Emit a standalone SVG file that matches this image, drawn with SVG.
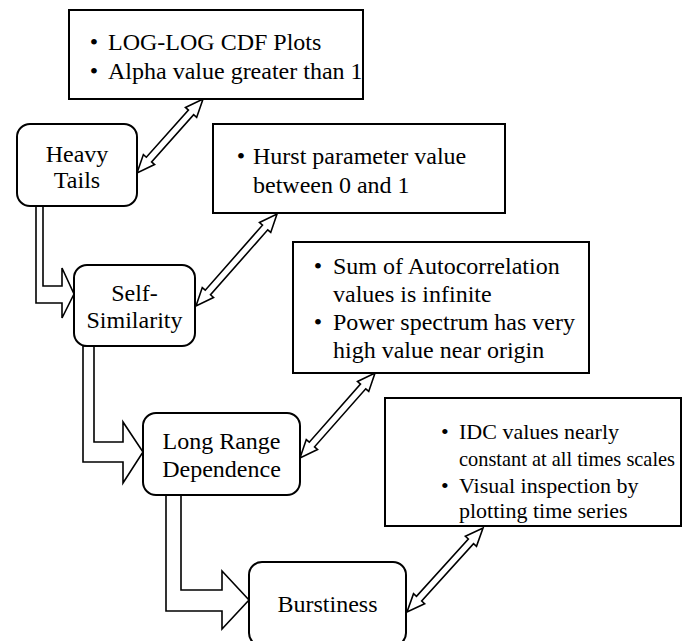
<svg xmlns="http://www.w3.org/2000/svg" width="692" height="641" viewBox="0 0 692 641">
<style>
.box{fill:#fff;stroke:#000;stroke-width:2}
.node{fill:#fff;stroke:#000;stroke-width:2}
.conn{fill:#fff;stroke:#000;stroke-width:1.6;stroke-linejoin:miter}
.t{font-family:'Liberation Serif','Tinos','Times New Roman','DejaVu Serif',serif;font-size:24px;fill:#000}
.c{text-anchor:middle}
.s{font-size:22px}
</style>
<rect width="692" height="641" fill="#fff"/>
<g id="connectors">
<path class="conn" d="M43,206 L43,286 L62,286 L62,268 L74,294 L62,318 L62,303 L36,303 L36,206 Z"/>
<path class="conn" d="M94,346 L94,442 L123,442 L123,422 L143,452 L123,483 L123,462 L83,462 L83,346 Z"/>
<path class="conn" d="M181,495 L181,590 L222,590 L222,571 L249,600 L222,629 L222,611 L166,611 L166,495 Z"/>
<path class="conn" transform="translate(137,173) rotate(-48.27)" d="M0,0 L18,-7.5 L18,-3.5 L81.2,-3.5 L81.2,-7.5 L99.2,0 L81.2,7.5 L81.2,3.5 L18,3.5 L18,7.5 Z"/>
<path class="conn" transform="translate(196,306) rotate(-48.64)" d="M0,0 L18,-7.5 L18,-3.5 L104.6,-3.5 L104.6,-7.5 L122.6,0 L104.6,7.5 L104.6,3.5 L18,3.5 L18,7.5 Z"/>
<path class="conn" transform="translate(300,458) rotate(-48.58)" d="M0,0 L18,-7.5 L18,-3.5 L95.4,-3.5 L95.4,-7.5 L113.4,0 L95.4,7.5 L95.4,3.5 L18,3.5 L18,7.5 Z"/>
<path class="conn" transform="translate(407,612) rotate(-47.86)" d="M0,0 L18,-7.5 L18,-3.5 L95.3,-3.5 L95.3,-7.5 L113.3,0 L95.3,7.5 L95.3,3.5 L18,3.5 L18,7.5 Z"/>
</g>
<g id="box-heavy-tails-info" class="t">
<rect class="box" x="69" y="10" width="294" height="89"/>
<text x="89.8" y="50">•</text><text x="108" y="50">LOG-LOG CDF Plots</text>
<text x="89.8" y="79">•</text><text x="108" y="79">Alpha value greater than 1</text>
</g>
<g id="box-self-similarity-info" class="t">
<rect class="box" x="213" y="124" width="292" height="89"/>
<text x="236.8" y="164">•</text><text x="253" y="164">Hurst parameter value</text>
<text x="253" y="193">between 0 and 1</text>
</g>
<g id="box-lrd-info" class="t">
<rect class="box" x="293" y="242" width="296" height="131"/>
<text x="313.8" y="274">•</text><text x="333" y="274">Sum of Autocorrelation</text>
<text x="333" y="302">values is infinite</text>
<text x="313.8" y="330">•</text><text x="333" y="330">Power spectrum has very</text>
<text x="333" y="358">high value near origin</text>
</g>
<g id="box-burstiness-info" class="t">
<rect class="box" x="385" y="398" width="296" height="128"/>
<text class="s" x="441" y="439">•</text><text class="s" x="459" y="439">IDC values nearly</text>
<text class="s" x="459" y="466" textLength="216" lengthAdjust="spacingAndGlyphs">constant at all times scales</text>
<text class="s" x="441" y="493">•</text><text class="s" x="459" y="493">Visual inspection by</text>
<text class="s" x="459" y="518">plotting time series</text>
</g>
<g id="node-heavy-tails" class="t">
<rect class="node" x="17" y="124" width="120" height="82" rx="13"/>
<text class="c" x="77" y="162">Heavy</text>
<text class="c" x="77" y="188">Tails</text>
</g>
<g id="node-self-similarity" class="t">
<rect class="node" x="74" y="265" width="121" height="81" rx="13"/>
<text class="c" x="134.5" y="301">Self-</text>
<text class="c" x="134.5" y="328">Similarity</text>
</g>
<g id="node-long-range-dependence" class="t">
<rect class="node" x="143" y="413" width="157" height="82" rx="13"/>
<text class="c" x="221.5" y="449">Long Range</text>
<text class="c" x="221.5" y="477">Dependence</text>
</g>
<g id="node-burstiness" class="t">
<rect class="node" x="249" y="562" width="157" height="84" rx="13"/>
<text class="c" x="327.5" y="612">Burstiness</text>
</g>
</svg>
